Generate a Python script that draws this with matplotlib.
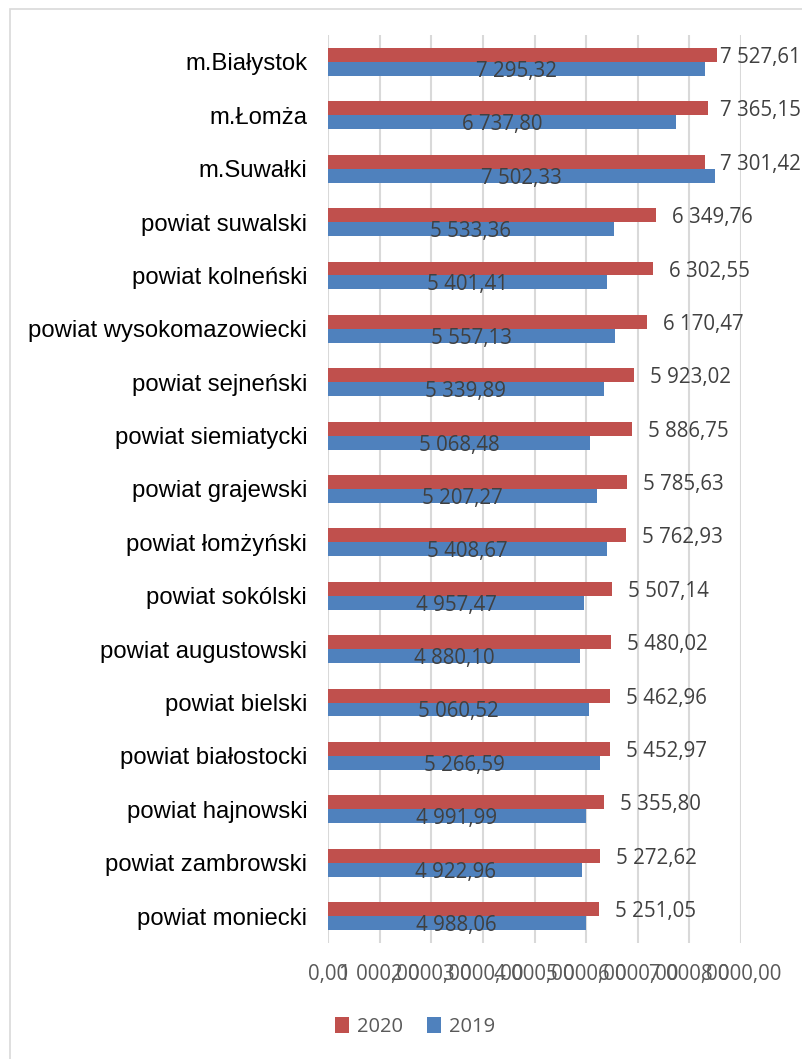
import matplotlib
matplotlib.use("Agg")
import matplotlib.pyplot as plt
from matplotlib.patches import Rectangle
import matplotlib.transforms as mtransforms

categories = ["m.Białystok", "m.Łomża", "m.Suwałki", "powiat suwalski", "powiat kolneński",
              "powiat wysokomazowiecki", "powiat sejneński", "powiat siemiatycki",
              "powiat grajewski", "powiat łomżyński", "powiat sokólski", "powiat augustowski",
              "powiat bielski", "powiat białostocki", "powiat hajnowski", "powiat zambrowski",
              "powiat moniecki"]
values_2020 = [7527.61, 7365.15, 7301.42, 6349.76, 6302.55, 6170.47, 5923.02, 5886.75,
               5785.63, 5762.93, 5507.14, 5480.02, 5462.96, 5452.97, 5355.80, 5272.62, 5251.05]
values_2019 = [7295.32, 6737.80, 7502.33, 5533.36, 5401.41, 5557.13, 5339.89, 5068.48,
               5207.27, 5408.67, 4957.47, 4880.10, 5060.52, 5266.59, 4991.99, 4922.96, 4988.06]
xticks = [0, 1000, 2000, 3000, 4000, 5000, 6000, 7000, 8000]
series_names = ["2020", "2019"]

RED = "#C0504D"
BLUE = "#4F81BD"
LABEL_FONT = "Open Sans"
CAT_FONT = "Liberation Sans"

def fmt(v):
    s = f"{v:,.2f}"
    return s.replace(",", " ").replace(".", ",")

W, H = 802, 1059
fig = plt.figure(figsize=(W / 100, H / 100), dpi=100)
fig.patch.set_facecolor("white")

# chart frame
frame = Rectangle((10 / W, -0.1), 1.2, (H - 9) / H + 0.1, transform=fig.transFigure,
                  fill=False, edgecolor="#D9D9D9", linewidth=1.2)
fig.add_artist(frame)

left, right = 328 / W, 741 / W
top, bottom = 1 - 35.3 / H, 1 - 942.7 / H
ax = fig.add_axes([left, bottom, right - left, top - bottom])

n = len(categories)
ys = list(range(n))
bh = 0.262
ax.barh([y - bh / 2 for y in ys], values_2020, height=bh, color=RED, label=series_names[0], zorder=3)
ax.barh([y + bh / 2 for y in ys], values_2019, height=bh, color=BLUE, label=series_names[1], zorder=3)

ax.set_xlim(0, 8000)
ax.set_ylim(n - 0.5, -0.5)
ax.set_xticks(xticks)
ax.set_xticklabels([fmt(t) for t in xticks], fontfamily=LABEL_FONT, fontsize=14.8, color="#595959")
ax.set_yticks(ys)
ax.set_yticklabels(categories, fontfamily=CAT_FONT, fontsize=17.2, color="#000000")
ax.tick_params(axis="y", length=0, pad=15)
ax.tick_params(axis="x", length=0, pad=15)
ax.grid(axis="x", color="#D9D9D9", linewidth=1.5, zorder=0)
for sp in ax.spines.values():
    sp.set_visible(False)

# data labels
down = mtransforms.offset_copy(ax.transData, fig=fig, x=0, y=-2.5, units="dots")
px_per_unit = (741 - 328) / 8000.0
max_x = (720 - 328) / px_per_unit
for y, v in zip(ys, values_2020):
    x = min(v + 16 / px_per_unit, max_x)
    ax.text(x, y - bh / 2, fmt(v), ha="left", va="center", fontfamily=LABEL_FONT,
            fontsize=14.8, color="#404040", zorder=4, clip_on=False, transform=down)
for y, v in zip(ys, values_2019):
    ax.text(v / 2, y + bh / 2, fmt(v), ha="center", va="center", fontfamily=LABEL_FONT,
            fontsize=14.8, color="#404040", zorder=4, transform=down)

leg = fig.legend(loc="center", bbox_to_anchor=(415 / W, 1 - 1027 / H), ncol=2, frameon=False,
                 prop={"family": LABEL_FONT, "size": 14.5}, handlelength=0.7, handleheight=0.8,
                 handletextpad=0.4, columnspacing=1.2)
for t in leg.get_texts():
    t.set_color("#595959")

fig.savefig("out.png", dpi=100, facecolor="white")
